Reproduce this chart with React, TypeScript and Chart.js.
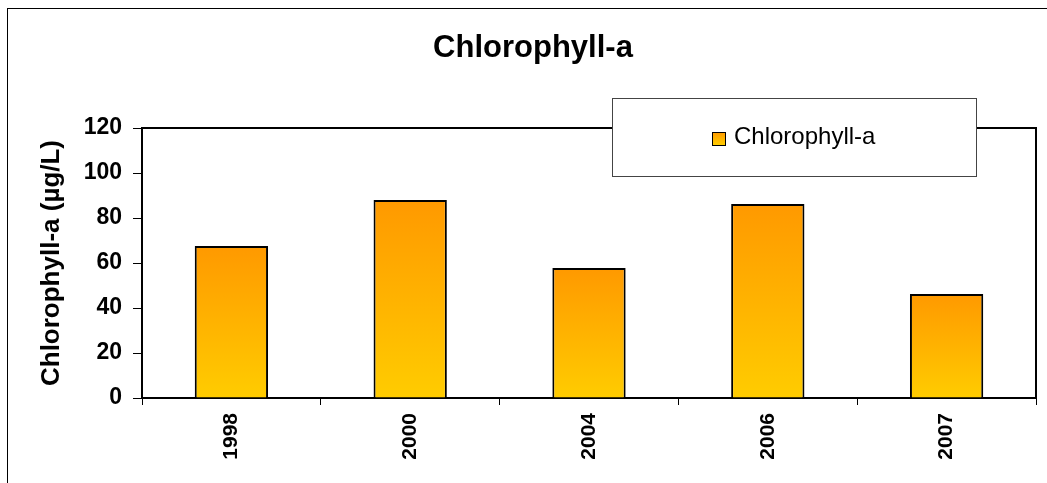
import React, { useEffect, useRef } from "react";
import { Chart, registerables } from "chart.js";

Chart.register(...registerables);

const categories = ["1998", "2000", "2004", "2006", "2007"];
const chlorophyllValues = [67.6, 88.0, 57.8, 86.2, 46.2];
const yTicks = [0, 20, 40, 60, 80, 100, 120];
const chartTitle = "Chlorophyll-a";
const seriesName = "Chlorophyll-a";
const yAxisTitle = "Chlorophyll-a (µg/L)";

const FONT = "'Liberation Sans', Arial, Helvetica, sans-serif";
const TOP_COLOR = "#FF9900";
const BOTTOM_COLOR = "#FFCC00";

export default function App() {
  const ref = useRef<HTMLCanvasElement | null>(null);

  useEffect(() => {
    const canvas = ref.current;
    if (!canvas) return;

    const decorations = {
      id: "decorations",
      beforeDatasetsDraw(chart: any) {
        const { ctx, chartArea } = chart;
        ctx.save();
        ctx.strokeStyle = "#000";
        ctx.lineWidth = 2;
        ctx.beginPath();
        ctx.moveTo(chartArea.left, chartArea.top);
        ctx.lineTo(chartArea.right, chartArea.top);
        ctx.lineTo(chartArea.right, chartArea.bottom);
        ctx.stroke();
        ctx.restore();
      },
      afterDraw(chart: any) {
        const { ctx } = chart;
        ctx.save();
        // outer frame
        ctx.fillStyle = "#000";
        ctx.fillRect(7, 8, 1040, 1);
        ctx.fillRect(7, 8, 1, 475);
        // title
        ctx.fillStyle = "#000";
        ctx.font = `bold 31px ${FONT}`;
        ctx.textAlign = "center";
        ctx.textBaseline = "middle";
        ctx.fillText(chartTitle, 533, 48);
        // legend box
        ctx.fillStyle = "#fff";
        ctx.fillRect(612, 98, 364, 78);
        ctx.strokeStyle = "#444";
        ctx.lineWidth = 1;
        ctx.strokeRect(612.5, 98.5, 364, 78);
        // legend marker
        const g = ctx.createLinearGradient(0, 132, 0, 145);
        g.addColorStop(0, TOP_COLOR);
        g.addColorStop(1, BOTTOM_COLOR);
        ctx.fillStyle = g;
        ctx.fillRect(712, 132, 13, 13);
        ctx.strokeStyle = "#000";
        ctx.strokeRect(712.5, 132.5, 13, 13);
        // legend text
        ctx.fillStyle = "#000";
        ctx.font = `24px ${FONT}`;
        ctx.textAlign = "left";
        ctx.textBaseline = "middle";
        ctx.fillText(seriesName, 734, 137);
        ctx.restore();
      },
    };

    const chart = new Chart(canvas, {
      type: "bar",
      data: {
        labels: categories,
        datasets: [
          {
            label: seriesName,
            data: chlorophyllValues,
            backgroundColor: (c: any) => {
              const ch = c.chart;
              const ys = ch.scales && ch.scales.y;
              if (!ys || typeof c.raw !== "number") return TOP_COLOR;
              const yTop = ys.getPixelForValue(c.raw);
              const yBase = ys.getPixelForValue(0);
              if (!isFinite(yTop) || !isFinite(yBase) || yTop === yBase) return TOP_COLOR;
              const g = ch.ctx.createLinearGradient(0, yTop, 0, yBase);
              g.addColorStop(0, TOP_COLOR);
              g.addColorStop(1, BOTTOM_COLOR);
              return g;
            },
            borderColor: "#000",
            borderWidth: 2,
            borderSkipped: "bottom",
            barPercentage: 0.41,
            categoryPercentage: 1,
          },
        ],
      },
      options: {
        animation: false,
        responsive: true,
        maintainAspectRatio: false,
        layout: { padding: { top: 128, right: 11, left: 0, bottom: 0 } },
        plugins: {
          legend: { display: false },
          title: { display: false },
          tooltip: { enabled: false },
        },
        scales: {
          x: {
            afterFit: (s: any) => {
              s.height = 85;
            },
            grid: {
              offset: true,
              drawOnChartArea: false,
              drawTicks: true,
              tickLength: 7,
              color: "#000",
              lineWidth: 1,
            },
            border: { display: true, color: "#000", width: 2 },
            ticks: {
              color: "#000",
              minRotation: 90,
              maxRotation: 90,
              padding: 8,
              font: { family: FONT, size: 21, weight: "bold" },
            },
          },
          y: {
            min: 0,
            max: 120,
            afterFit: (s: any) => {
              s.width = 142;
            },
            afterBuildTicks: (s: any) => {
              s.ticks = yTicks.map((v) => ({ value: v }));
            },
            grid: {
              drawOnChartArea: false,
              drawTicks: true,
              tickLength: 9,
              color: "#000",
              lineWidth: 1,
            },
            border: { display: true, color: "#000", width: 2 },
            ticks: {
              color: "#000",
              padding: 11,
              font: { family: FONT, size: 23, weight: "bold" },
            },
            title: {
              display: true,
              text: yAxisTitle,
              color: "#000",
              padding: { top: 36, bottom: 0 },
              font: { family: FONT, size: 26, weight: "bold" },
            },
          },
        },
      },
      plugins: [decorations],
    });

    return () => chart.destroy();
  }, []);

  return (
    <div
      style={{
        position: "fixed",
        left: 0,
        top: 0,
        width: 1047,
        height: 483,
        background: "#fff",
      }}
    >
      <canvas ref={ref} style={{ display: "block" }} />
    </div>
  );
}
